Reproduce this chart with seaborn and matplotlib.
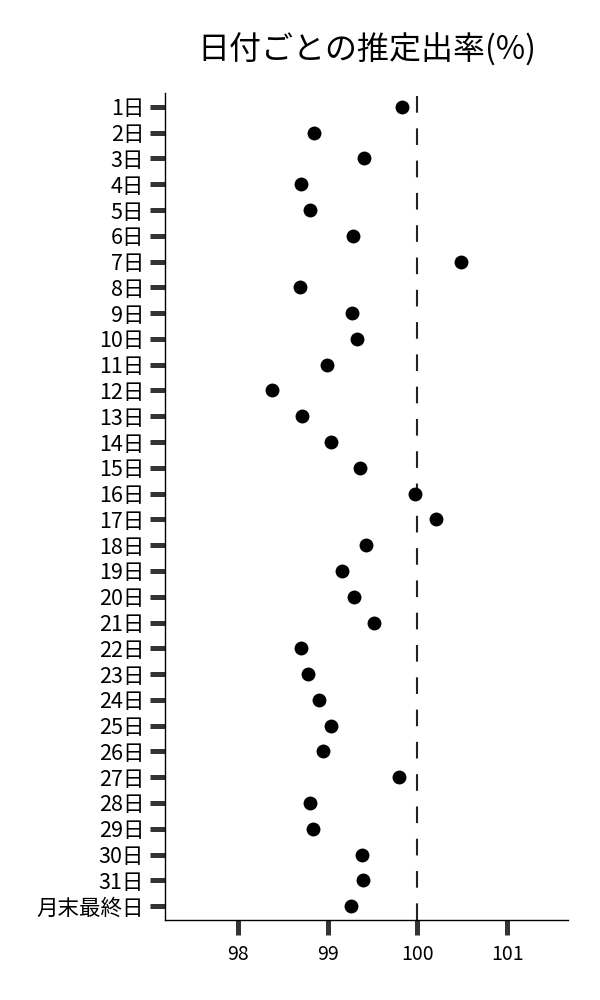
import matplotlib
matplotlib.use("Agg")
import matplotlib.pyplot as plt
import seaborn as sns
import pandas as pd

days = [f"{i}日" for i in range(1, 32)] + ["月末最終日"]
rates = [99.83, 98.85, 99.41, 98.70, 98.81, 99.28, 100.49, 98.69, 99.27, 99.33,
         98.99, 98.38, 98.72, 99.04, 99.36, 99.97, 100.21, 99.43, 99.16, 99.29,
         99.52, 98.70, 98.78, 98.90, 99.04, 98.95, 99.80, 98.81, 98.84, 99.38,
         99.39, 99.26]
x_ticks = [98, 99, 100, 101]
ref_value = 100
title = "日付ごとの推定出率(%)"

sns.set_theme(style="white")
plt.rcParams["font.family"] = ["Noto Sans CJK JP", "DejaVu Sans"]

df = pd.DataFrame({"day": days, "rate": rates})

fig = plt.figure(figsize=(6, 10), dpi=100)
ax = fig.add_axes([0.275, 0.08, 0.672, 0.827])

sns.stripplot(data=df, x="rate", y="day", order=days, jitter=False,
              color="black", size=10, linewidth=0, ax=ax, zorder=3)
ax.axvline(ref_value, color="#222222", linestyle=(0, (8, 7.5)), linewidth=1.5, zorder=2)

ax.set_xlim(97.19, 101.68)
ax.set_ylim(len(days) - 0.46, -0.54)
ax.set_xticks(x_ticks)
ax.set_xticklabels([str(t) for t in x_ticks])
ax.set_xlabel("")
ax.set_ylabel("")
ax.set_title(title, fontsize=23, pad=24, color="black")

for side in ["top", "right"]:
    ax.spines[side].set_visible(False)
for side in ["left", "bottom"]:
    ax.spines[side].set_color("black")
    ax.spines[side].set_linewidth(1.0)

ax.tick_params(axis="both", which="major", direction="out", length=11,
               width=3.6, color="#333333", labelcolor="black",
               bottom=True, left=True, top=False, right=False)
ax.tick_params(axis="x", pad=6, labelsize=14)
ax.tick_params(axis="y", pad=4, labelsize=15.5)

fig.savefig("out.png", dpi=100)
